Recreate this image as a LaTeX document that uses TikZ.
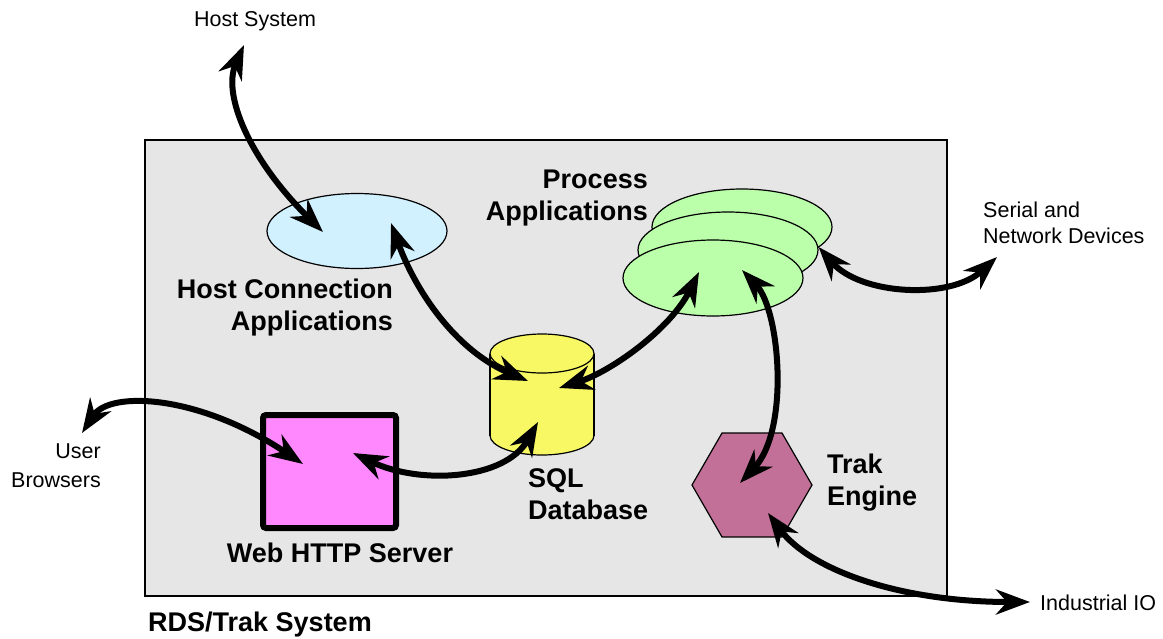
\documentclass[tikz,border=0pt]{standalone}
\usepackage{fontspec}
\setmainfont{Liberation Sans}
\usepackage{tikz}
\usetikzlibrary{shapes.geometric, arrows.meta, calc}

\definecolor{boxgray}{RGB}{230,230,230}
\definecolor{hostblue}{RGB}{210,241,255}
\definecolor{procgreen}{RGB}{187,255,170}
\definecolor{sqlyellow}{RGB}{248,248,100}
\definecolor{webpink}{RGB}{255,136,255}
\definecolor{trakmauve}{RGB}{194,112,152}

\tikzset{
    link/.style={<->, >={Stealth[length=34pt, width=25pt, inset=11pt]}, line width=6pt},
    biglabel/.style={font=\fontsize{27}{32}\selectfont\bfseries, inner sep=0pt},
    smalllabel/.style={font=\fontsize{21.5}{26}\selectfont, inner sep=0pt},
    procapp/.style={ellipse, draw, line width=1.2pt, fill=procgreen, minimum width=180pt, minimum height=76pt},
}

\begin{document}
\begin{tikzpicture}[x=1pt, y=-1pt]
    \useasboundingbox (0,0) rectangle (1163,638);

    % Draw the system box
    \draw[fill=boxgray, line width=1.5pt] (145,140) rectangle (947,596);
    \node[biglabel, anchor=west] (rds) at (148,625) {RDS/Trak System};

    % Host connection applications
    \node[ellipse, draw, line width=1.2pt, fill=hostblue, minimum width=180pt, minimum height=75pt] (host) at (357,231) {};
    \node[biglabel, align=right, anchor=east] (hostlbl) at (393,308) {Host Connection\\Applications};

    % Process applications, three stacked
    \node[procapp] (proc3) at (742,227) {};
    \node[procapp] (proc2) at (728,250) {};
    \node[procapp] (proc) at (713,278) {};
    \node[biglabel, align=right, anchor=east] (proclbl) at (648,198) {Process\\Applications};

    % SQL database cylinder
    \draw[line width=1.2pt, fill=sqlyellow] (542,435.5) ellipse [x radius=52, y radius=19.5];
    \fill[sqlyellow] (490,353.5) rectangle (594,435.5);
    \draw[line width=1.2pt] (490,353.5) -- (490,435.5) (594,353.5) -- (594,435.5);
    \draw[line width=1.2pt, fill=sqlyellow] (542,353.5) ellipse [x radius=52, y radius=19.5];
    \node[inner sep=0pt, minimum width=104pt, minimum height=121pt] (sql) at (542,394.5) {};
    \node[biglabel, align=left, anchor=west] (sqllbl) at (528,494) {SQL\\Database};

    % Web server
    \node[draw, line width=6pt, rounded corners=3pt, fill=webpink, minimum width=133pt, minimum height=113pt] (web) at (329.5,471.5) {};
    \node[biglabel] (weblbl) at (340,553) {Web HTTP Server};

    % Trak engine
    \node[regular polygon, regular polygon sides=6, shape border rotate=0, draw, line width=1.2pt, fill=trakmauve, minimum size=120pt, inner sep=0pt] (trak) at (752,485) {};
    \node[biglabel, align=left, anchor=west] (traklbl) at (827,483) {Trak\\Engine};

    % Outside labels
    \node[smalllabel] (hostsys) at (255,21) {Host System};
    \node[smalllabel, align=left, anchor=west] (serial) at (983,223) {Serial and\\Network Devices};
    \node[smalllabel, align=right, anchor=east, font=\fontsize{21.5}{29}\selectfont] (users) at (101,466) {User\\Browsers};
    \node[smalllabel, anchor=west] (indio) at (1040,603) {Industrial IO};

    % Connector ends
    \coordinate (hostsysIn) at ($(hostsys)+(-11,24)$);
    \coordinate (hostL) at ($(host)+(-34,1)$);
    \coordinate (hostR) at ($(host)+(34,-8)$);
    \coordinate (sqlL) at ($(sql)+(-14,-13.5)$);
    \coordinate (sqlR) at ($(sql)+(17,-6.5)$);
    \coordinate (sqlB) at ($(sql)+(-4,27.5)$);
    \coordinate (procL) at ($(proc)+(-14,-6)$);
    \coordinate (procR) at ($(proc)+(29,-8)$);
    \coordinate (procE) at ($(proc2.east)+(0,-3)$);
    \coordinate (trakT) at ($(trak)+(-12,-2)$);
    \coordinate (trakB) at ($(trak)+(16,28)$);
    \coordinate (webL) at ($(web)+(-26.5,-7.5)$);
    \coordinate (webR) at ($(web)+(23.5,-18.5)$);
    \coordinate (serialIn) at ($(serial.west)+(14,34)$);
    \coordinate (usersIn) at ($(users.east)+(-19,-33)$);
    \coordinate (indioIn) at ($(indio.west)+(-10,-1)$);

    % Draw the connectors
    \draw[link] (hostsysIn) .. controls +(-22,50) and +(-73,-72) .. (hostL);
    \draw[link] (hostR) .. controls +(24,67) and +(-73,-31) .. (sqlL);
    \draw[link] (sqlR) .. controls +(51,-16) and +(-29,58) .. (procL);
    \draw[link] (procR) .. controls +(38,40) and +(50,-53) .. (trakT);
    \draw[link] (procE) .. controls +(42,48) and +(-47,43) .. (serialIn);
    \draw[link] (trakB) .. controls +(42,57) and +(-130,0) .. (indioIn);
    \draw[link] (usersIn) .. controls +(28,-43) and +(-103,-69) .. (webL);
    \draw[link] (webR) .. controls +(67,32) and +(-33,58) .. (sqlB);

\end{tikzpicture}
\end{document}
